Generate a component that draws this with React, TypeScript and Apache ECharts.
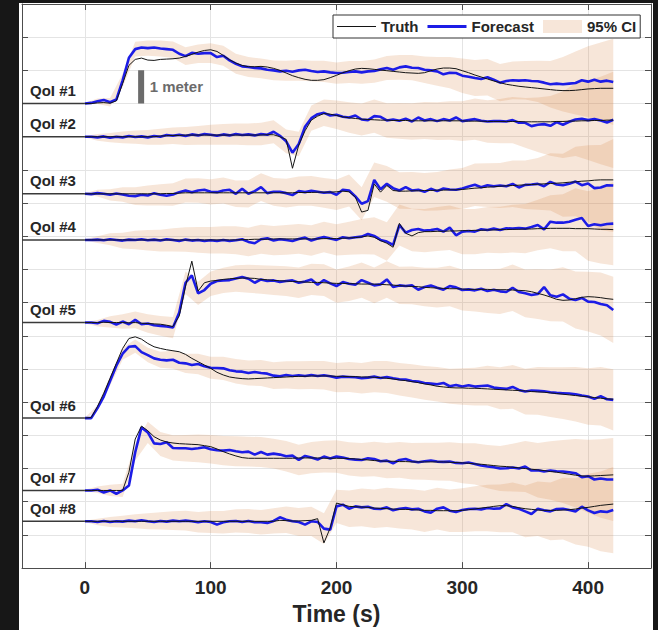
import React, { useEffect, useRef } from 'react';
import * as echarts from 'echarts';

// Sample times (s): forecasts/truths every 5 s, CI half-widths every 10 s
const TIMES = Array.from({ length: 85 }, (_, i) => i * 5);
const BAND_TIMES = Array.from({ length: 43 }, (_, i) => i * 10);

// Vertical offset (m) at which each quantity of interest is drawn
const BASELINES = [14.0, 13.0, 11.28, 9.89, 7.4, 4.52, 2.34, 1.41];
const QOI_LABELS = ['QoI #1', 'QoI #2', 'QoI #3', 'QoI #4', 'QoI #5', 'QoI #6', 'QoI #7', 'QoI #8'];

// Forecast (m, relative to baseline)
const forecast1 = [0, 0.02, 0.07, 0.11, 0.04, 0.12, 0.7, 1.38, 1.64, 1.69,
  1.67, 1.69, 1.66, 1.64, 1.62, 1.5, 1.43, 1.53, 1.5, 1.52,
  1.52, 1.4, 1.44, 1.3, 1.2, 1.12, 1.1, 1.07, 1.06, 1.02,
  1.0, 0.97, 0.99, 0.96, 1.0, 1.02, 0.98, 0.95, 0.97, 0.94,
  0.92, 0.93, 0.95, 0.97, 0.94, 0.97, 0.98, 1.03, 1.07, 1.02,
  1.09, 1.12, 1.08, 1.07, 1.02, 1.0, 0.97, 0.88, 0.93, 0.92,
  0.84, 0.81, 0.77, 0.74, 0.79, 0.72, 0.63, 0.68, 0.7, 0.69,
  0.7, 0.68, 0.67, 0.63, 0.58, 0.6, 0.58, 0.6, 0.62, 0.7,
  0.66, 0.72, 0.66, 0.69, 0.65];
const forecast2 = [0, 0, -0.02, 0.01, -0.03, 0, -0.02, 0.02, -0.01, 0.01,
  -0.02, 0.02, 0, 0.05, 0.03, 0.06, 0.02, 0.07, 0.04, 0.08,
  0.06, 0.03, 0.07, 0.04, 0.08, 0.05, 0.07, 0.04, 0.08, 0.06,
  0.15, 0.03, -0.14, -0.48, -0.22, 0.3, 0.56, 0.68, 0.72, 0.64,
  0.66, 0.6, 0.58, 0.64, 0.52, 0.5, 0.62, 0.6, 0.49, 0.52,
  0.48, 0.54, 0.46, 0.58, 0.49, 0.53, 0.47, 0.53, 0.49, 0.58,
  0.47, 0.5, 0.53, 0.48, 0.46, 0.47, 0.47, 0.46, 0.5, 0.42,
  0.42, 0.32, 0.36, 0.38, 0.33, 0.44, 0.36, 0.45, 0.52, 0.54,
  0.5, 0.53, 0.49, 0.43, 0.51];
const forecast3 = [0, -0.01, 0.02, 0, -0.03, 0.01, -0.02, -0.06, -0.07, -0.03,
  -0.05, 0.02, -0.03, -0.06, -0.02, 0.05, 0.1, 0.05, 0.1, 0.12,
  0.06, 0.05, 0.1, 0.12, 0, 0.15, 0, 0.08, 0.2, 0.02,
  0.06, 0.06, 0.02, -0.04, 0.08, 0.05, 0.09, 0.06, 0.03, 0.05,
  -0.03, 0.12, 0.1, -0.08, -0.3, -0.22, 0.42, 0.14, 0.3, 0.17,
  0.1, 0.2, 0.1, 0.12, 0.06, 0.15, 0.08, 0.16, 0.13, 0.12,
  0.16, 0.22, 0.27, 0.2, 0.26, 0.23, 0.25, 0.23, 0.3, 0.19,
  0.27, 0.28, 0.3, 0.23, 0.36, 0.28, 0.26, 0.3, 0.37, 0.26,
  0.31, 0.17, 0.19, 0.26, 0.25];
const forecast4 = [0, 0, 0.01, -0.01, 0.02, 0, -0.02, 0.01, 0, 0.02,
  -0.01, 0.01, -0.02, 0.02, 0, -0.03, 0.01, -0.02, 0, -0.03,
  -0.01, -0.03, 0, -0.03, -0.01, 0.02, -0.06, -0.1, 0.02, 0.05,
  -0.02, 0.02, 0, -0.03, 0.03, 0.07, -0.02, 0.04, 0.09, 0.04,
  0, 0.08, 0.05, 0.08, 0.1, 0.18, 0.12, 0, -0.05, -0.15,
  0.45, 0.22, 0.3, 0.33, 0.28, 0.3, 0.33, 0.25, 0.37, 0.14,
  0.25, 0.27, 0.25, 0.32, 0.3, 0.34, 0.3, 0.35, 0.34, 0.36,
  0.34, 0.39, 0.45, 0.32, 0.55, 0.52, 0.52, 0.55, 0.61, 0.66,
  0.42, 0.47, 0.44, 0.48, 0.49];
const forecast5 = [0, 0, -0.02, 0.05, 0.02, -0.06, 0.03, -0.05, 0.08, -0.05,
  -0.03, -0.08, -0.1, -0.12, -0.15, 0.3, 1.2, 1.42, 0.88, 0.98,
  1.17, 1.25, 1.27, 1.28, 1.33, 1.37, 1.32, 1.2, 1.3, 1.25,
  1.27, 1.22, 1.25, 1.27, 1.2, 1.24, 1.3, 1.14, 1.28, 1.18,
  1.1, 1.22, 1.17, 1.14, 1.28, 1.2, 1.12, 1.15, 1.3, 1.07,
  1.12, 1.1, 1.12, 0.99, 1.07, 1.12, 1.05, 0.99, 1.1, 1.06,
  0.98, 1.0, 0.97, 1.02, 0.95, 0.99, 0.94, 0.92, 1.05, 0.92,
  0.88, 0.83, 0.86, 1.07, 0.82, 0.78, 0.85, 0.72, 0.68, 0.74,
  0.63, 0.62, 0.56, 0.52, 0.38];
const forecast6 = [0, 0, 0.3, 0.65, 1.12, 1.58, 1.94, 2.15, 2.17, 1.99,
  1.9, 1.8, 1.76, 1.74, 1.76, 1.67, 1.65, 1.6, 1.63, 1.56,
  1.52, 1.51, 1.5, 1.44, 1.41, 1.4, 1.36, 1.39, 1.36, 1.34,
  1.28, 1.26, 1.3, 1.27, 1.29, 1.27, 1.3, 1.27, 1.29, 1.26,
  1.22, 1.25, 1.24, 1.23, 1.2, 1.22, 1.25, 1.21, 1.24, 1.2,
  1.17, 1.16, 1.12, 1.1, 1.06, 1.04, 1.02, 1.06, 0.96, 1.0,
  0.95, 0.99, 0.95, 0.97, 0.98, 0.92, 0.9, 0.88, 0.94, 0.85,
  0.8, 0.83, 0.82, 0.81, 0.78, 0.76, 0.75, 0.74, 0.72, 0.68,
  0.65, 0.58, 0.66, 0.57, 0.55];
const forecast7 = [0, 0, 0.02, -0.06, 0, -0.1, 0, 0.15, 1.15, 1.9,
  1.75, 1.42, 1.4, 1.45, 1.28, 1.27, 1.27, 1.25, 1.27, 1.3,
  1.24, 1.21, 1.2, 1.22, 1.18, 1.15, 1.17, 1.08, 1.16, 1.08,
  1.11, 1.08, 1.03, 1.05, 0.92, 1.04, 0.99, 0.93, 1.02, 0.96,
  1.02, 0.99, 0.95, 0.93, 0.92, 0.97, 0.95, 0.88, 0.9, 0.82,
  0.92, 0.95, 0.88, 0.85, 0.88, 0.9, 0.87, 0.86, 0.87, 0.83,
  0.82, 0.84, 0.8, 0.75, 0.72, 0.7, 0.66, 0.67, 0.69, 0.66,
  0.72, 0.6, 0.61, 0.57, 0.6, 0.58, 0.57, 0.55, 0.52, 0.4,
  0.43, 0.33, 0.36, 0.33, 0.33];
const forecast8 = [0, 0, -0.02, 0.01, -0.02, 0, -0.01, 0.02, 0, 0.03,
  0, -0.02, 0.01, -0.01, 0.02, 0, 0.02, 0, -0.03, 0,
  -0.02, -0.1, -0.03, 0, 0.01, -0.02, 0.01, -0.03, -0.03, -0.05,
  0.01, 0.12, 0.05, 0, -0.02, -0.1, 0, -0.02, -0.22, -0.25,
  0.45, 0.5, 0.38, 0.45, 0.42, 0.44, 0.38, 0.37, 0.42, 0.33,
  0.38, 0.4, 0.36, 0.38, 0.3, 0.26, 0.38, 0.42, 0.32, 0.28,
  0.34, 0.37, 0.38, 0.36, 0.4, 0.38, 0.39, 0.52, 0.42, 0.38,
  0.3, 0.22, 0.38, 0.33, 0.3, 0.37, 0.38, 0.34, 0.3, 0.44,
  0.33, 0.25, 0.3, 0.28, 0.34];

// Truth (m, relative to baseline)
const truth1 = [0, 0, 0.02, 0.03, 0.01, 0.08, 0.6, 1.15, 1.33, 1.37,
  1.31, 1.3, 1.33, 1.34, 1.35, 1.37, 1.42, 1.48, 1.55, 1.6,
  1.62, 1.57, 1.45, 1.32, 1.22, 1.15, 1.11, 1.11, 1.12, 1.1,
  1.06, 1.0, 0.92, 0.84, 0.78, 0.73, 0.7, 0.7, 0.72, 0.78,
  0.85, 0.93, 0.99, 1.04, 1.06, 1.05, 1.03, 1.01, 0.99, 0.97,
  0.95, 0.93, 0.92, 0.91, 0.93, 0.99, 1.04, 1.07, 1.07, 1.05,
  0.99, 0.93, 0.86, 0.8, 0.74, 0.68, 0.63, 0.58, 0.55, 0.52,
  0.5, 0.48, 0.46, 0.44, 0.42, 0.4, 0.39, 0.39, 0.4, 0.42,
  0.44, 0.45, 0.46, 0.46, 0.46];
const truth2 = [0, 0, 0, 0, 0, 0, 0, 0, 0, 0,
  0, 0, 0.02, 0.03, 0.04, 0.04, 0.05, 0.05, 0.05, 0.05,
  0.05, 0.05, 0.05, 0.05, 0.05, 0.05, 0.05, 0.05, 0.05, 0.06,
  0.06, 0, -0.08, -0.95, -0.25, 0.18, 0.5, 0.62, 0.7, 0.68,
  0.64, 0.6, 0.57, 0.55, 0.53, 0.52, 0.51, 0.5, 0.5, 0.49,
  0.49, 0.49, 0.48, 0.48, 0.48, 0.48, 0.48, 0.48, 0.48, 0.48,
  0.48, 0.47, 0.47, 0.47, 0.46, 0.46, 0.46, 0.46, 0.46, 0.46,
  0.45, 0.45, 0.45, 0.45, 0.45, 0.46, 0.46, 0.47, 0.47, 0.48,
  0.48, 0.49, 0.49, 0.5, 0.5];
const truth3 = [0, 0, 0, 0, 0, 0, 0, 0, 0, 0,
  0, 0, 0, 0.01, 0.01, 0.02, 0.03, 0.03, 0.03, 0.03,
  0.03, 0.03, 0.03, 0.03, 0.03, 0.03, 0.03, 0.03, 0.03, 0.03,
  0.03, 0.03, 0.03, 0.03, 0.04, 0.04, 0.04, 0.05, 0.05, 0.05,
  0.06, 0.08, 0.06, -0.1, -0.55, -0.5, 0.3, 0.05, 0.25, 0.1,
  0.08, 0.08, 0.09, 0.09, 0.1, 0.1, 0.11, 0.11, 0.12, 0.12,
  0.13, 0.15, 0.17, 0.18, 0.2, 0.21, 0.23, 0.24, 0.25, 0.26,
  0.27, 0.28, 0.29, 0.3, 0.31, 0.32, 0.33, 0.35, 0.36, 0.38,
  0.39, 0.41, 0.42, 0.42, 0.42];
const truth4 = [0, 0, 0, 0, 0, 0, 0, 0, 0, 0,
  0, 0, 0, 0, 0, 0, 0, 0, 0, 0,
  0, 0, 0, 0, 0, 0.01, 0.01, 0.02, 0.02, 0.02,
  0.03, 0.03, 0.03, 0.03, 0.03, 0.03, 0.03, 0.03, 0.04, 0.04,
  0.04, 0.05, 0.06, 0.07, 0.09, 0.12, 0.08, -0.02, -0.1, -0.22,
  0.5, 0.2, 0.12, 0.22, 0.25, 0.25, 0.26, 0.26, 0.27, 0.27,
  0.28, 0.28, 0.29, 0.29, 0.3, 0.3, 0.31, 0.31, 0.32, 0.32,
  0.33, 0.33, 0.34, 0.34, 0.35, 0.35, 0.35, 0.35, 0.34, 0.34,
  0.34, 0.33, 0.32, 0.32, 0.31];
const truth5 = [0, 0, 0, 0.01, 0, 0, 0, -0.01, 0, -0.02,
  -0.03, -0.04, -0.05, -0.08, -0.12, 0.2, 1.1, 1.85, 0.95, 1.2,
  1.25, 1.27, 1.3, 1.32, 1.33, 1.34, 1.34, 1.33, 1.3, 1.29,
  1.27, 1.26, 1.25, 1.24, 1.23, 1.22, 1.21, 1.21, 1.2, 1.19,
  1.18, 1.18, 1.17, 1.17, 1.16, 1.16, 1.16, 1.15, 1.14, 1.13,
  1.11, 1.1, 1.09, 1.08, 1.06, 1.05, 1.04, 1.03, 1.02, 1.02,
  1.01, 1.0, 1.0, 1.0, 1.0, 0.99, 0.99, 0.99, 0.98, 0.97,
  0.96, 0.93, 0.88, 0.83, 0.77, 0.7, 0.67, 0.68, 0.72, 0.76,
  0.78, 0.77, 0.75, 0.72, 0.7];
const truth6 = [0, 0.02, 0.35, 0.75, 1.2, 1.65, 2.1, 2.4, 2.45, 2.38,
  2.25, 2.15, 2.1, 2.06, 2.03, 2.0, 1.92, 1.8, 1.7, 1.6,
  1.5, 1.38, 1.3, 1.24, 1.21, 1.19, 1.18, 1.19, 1.2, 1.21,
  1.22, 1.23, 1.24, 1.25, 1.26, 1.26, 1.27, 1.27, 1.27, 1.27,
  1.26, 1.26, 1.25, 1.25, 1.24, 1.24, 1.23, 1.22, 1.2, 1.18,
  1.15, 1.13, 1.1, 1.07, 1.03, 1.0, 0.96, 0.94, 0.92, 0.91,
  0.91, 0.9, 0.9, 0.89, 0.88, 0.87, 0.86, 0.85, 0.84, 0.83,
  0.82, 0.8, 0.79, 0.78, 0.76, 0.74, 0.72, 0.7, 0.68, 0.66,
  0.64, 0.62, 0.6, 0.58, 0.57];
const truth7 = [0, 0, 0, 0, 0, 0, 0, 0.55, 1.55, 1.94,
  1.8, 1.62, 1.52, 1.46, 1.43, 1.41, 1.4, 1.39, 1.38, 1.35,
  1.32, 1.25, 1.17, 1.1, 1.04, 0.99, 0.97, 0.97, 0.97, 0.97,
  0.97, 0.97, 0.97, 0.97, 0.98, 0.98, 0.98, 0.98, 0.97, 0.97,
  0.97, 0.97, 0.96, 0.95, 0.93, 0.92, 0.9, 0.89, 0.88, 0.88,
  0.87, 0.87, 0.86, 0.86, 0.86, 0.86, 0.86, 0.86, 0.85, 0.84,
  0.83, 0.82, 0.8, 0.79, 0.77, 0.75, 0.73, 0.72, 0.7, 0.68,
  0.66, 0.64, 0.62, 0.6, 0.57, 0.55, 0.52, 0.49, 0.46, 0.44,
  0.43, 0.44, 0.45, 0.46, 0.47];
const truth8 = [0, 0, 0, 0, 0, 0, 0, 0, 0, 0,
  0, 0, 0, 0, 0, 0, 0, 0, 0, 0,
  0, 0, 0, 0, 0, 0, 0, 0, 0, 0,
  0, 0.03, 0.02, 0.01, 0.01, 0.02, 0.03, 0.08, -0.65, -0.2,
  0.55, 0.5, 0.45, 0.44, 0.43, 0.42, 0.4, 0.39, 0.38, 0.37,
  0.36, 0.36, 0.35, 0.34, 0.33, 0.33, 0.32, 0.32, 0.32, 0.32,
  0.33, 0.35, 0.37, 0.4, 0.42, 0.45, 0.47, 0.47, 0.45, 0.41,
  0.38, 0.36, 0.34, 0.33, 0.33, 0.33, 0.34, 0.35, 0.37, 0.4,
  0.42, 0.45, 0.48, 0.5, 0.52];

// 95% CI half-width (m), every 10 s
const ciHalf1 = [0.02, 0.08, 0.13, 0.2, 0.22, 0.23, 0.24, 0.25, 0.27, 0.28,
  0.3, 0.3, 0.3, 0.3, 0.3, 0.3, 0.3, 0.31, 0.31, 0.32,
  0.32, 0.33, 0.34, 0.35, 0.36, 0.37, 0.38, 0.4, 0.43, 0.47,
  0.52, 0.54, 0.55, 0.56, 0.57, 0.58, 0.62, 0.7, 0.82, 0.95,
  1.07, 1.18, 1.3];
const ciHalf2 = [0.02, 0.1, 0.14, 0.18, 0.2, 0.22, 0.24, 0.25, 0.27, 0.28,
  0.3, 0.31, 0.32, 0.33, 0.34, 0.35, 0.36, 0.37, 0.38, 0.4,
  0.43, 0.46, 0.48, 0.5, 0.52, 0.54, 0.55, 0.56, 0.57, 0.58,
  0.6, 0.62, 0.64, 0.67, 0.7, 0.75, 0.82, 0.9, 1.0, 1.1,
  1.2, 1.32, 1.45];
const ciHalf3 = [0.02, 0.1, 0.17, 0.22, 0.27, 0.3, 0.32, 0.34, 0.36, 0.37,
  0.38, 0.39, 0.4, 0.41, 0.42, 0.42, 0.43, 0.44, 0.45, 0.45,
  0.46, 0.48, 0.5, 0.52, 0.54, 0.55, 0.56, 0.57, 0.58, 0.6,
  0.62, 0.64, 0.66, 0.68, 0.7, 0.73, 0.78, 0.86, 0.95, 1.05,
  1.15, 1.28, 1.4];
const ciHalf4 = [0.02, 0.1, 0.18, 0.24, 0.28, 0.31, 0.33, 0.35, 0.37, 0.39,
  0.4, 0.41, 0.42, 0.43, 0.44, 0.44, 0.45, 0.45, 0.46, 0.46,
  0.47, 0.5, 0.53, 0.56, 0.58, 0.62, 0.64, 0.65, 0.66, 0.67,
  0.68, 0.68, 0.69, 0.7, 0.72, 0.74, 0.76, 0.8, 0.86, 0.95,
  1.05, 1.15, 1.25];
const ciHalf5 = [0.02, 0.1, 0.17, 0.22, 0.25, 0.28, 0.3, 0.32, 0.34, 0.35,
  0.37, 0.38, 0.4, 0.42, 0.43, 0.44, 0.45, 0.46, 0.47, 0.48,
  0.5, 0.52, 0.53, 0.54, 0.55, 0.56, 0.57, 0.58, 0.6, 0.61,
  0.62, 0.64, 0.66, 0.68, 0.7, 0.72, 0.75, 0.78, 0.82, 0.86,
  0.9, 0.95, 1.0];
const ciHalf6 = [0.02, 0.08, 0.14, 0.18, 0.2, 0.22, 0.24, 0.27, 0.29, 0.31,
  0.33, 0.35, 0.37, 0.38, 0.39, 0.4, 0.41, 0.42, 0.42, 0.43,
  0.44, 0.45, 0.46, 0.47, 0.48, 0.49, 0.5, 0.51, 0.52, 0.53,
  0.55, 0.57, 0.6, 0.63, 0.66, 0.69, 0.72, 0.75, 0.78, 0.82,
  0.85, 0.88, 0.92];
const ciHalf7 = [0.02, 0.1, 0.17, 0.2, 0.25, 0.32, 0.36, 0.38, 0.4, 0.42,
  0.43, 0.44, 0.45, 0.45, 0.45, 0.45, 0.46, 0.46, 0.47, 0.48,
  0.49, 0.5, 0.51, 0.52, 0.53, 0.54, 0.55, 0.56, 0.57, 0.58,
  0.6, 0.62, 0.65, 0.68, 0.72, 0.77, 0.82, 0.88, 0.95, 1.03,
  1.1, 1.18, 1.25];
const ciHalf8 = [0.02, 0.1, 0.15, 0.18, 0.21, 0.24, 0.26, 0.28, 0.3, 0.31,
  0.33, 0.34, 0.35, 0.36, 0.37, 0.38, 0.4, 0.42, 0.44, 0.46,
  0.5, 0.55, 0.57, 0.58, 0.59, 0.6, 0.61, 0.62, 0.63, 0.64,
  0.66, 0.68, 0.7, 0.72, 0.75, 0.78, 0.82, 0.87, 0.93, 1.0,
  1.1, 1.2, 1.3];

const FORECASTS = [forecast1, forecast2, forecast3, forecast4, forecast5, forecast6, forecast7, forecast8];
const TRUTHS = [truth1, truth2, truth3, truth4, truth5, truth6, truth7, truth8];
const CI_HALF = [ciHalf1, ciHalf2, ciHalf3, ciHalf4, ciHalf5, ciHalf6, ciHalf7, ciHalf8];

// Pre-event stub drawn from the left edge up to t = 0
const STUB_START = -50;
// "1 meter" scale bar
const SCALE_BAR_T = 44.7;
const SCALE_BAR_RANGE = [14, 15];

const FONT = "'Liberation Sans', Arial, Helvetica, sans-serif";
const TEXT = '#262626';
const AXIS = '#4d4d4d';
const GRID = '#e4e4e4';
const BLUE = '#1c1ce6';
const BLACK = '#141414';
const BAND = 'rgba(216, 128, 64, 0.2)';

function buildOption() {
  const series: any[] = [];

  // confidence bands: one polygon per QoI, lower edge + upper edge
  BASELINES.forEach((base, k) => {
    const f = FORECASTS[k];
    const hw = CI_HALF[k];
    const rows = BAND_TIMES.map((t, i) => [t, base + f[i * 2] - hw[i], base + f[i * 2] + hw[i]]);
    series.push({
      type: 'custom',
      name: '95% CI',
      data: rows,
      encode: { x: 0, y: [1, 2] },
      itemStyle: { color: BAND },
      silent: true,
      renderItem: (params: any, api: any) => {
        if (params.dataIndex !== 0) return null;
        const upper = rows.map((r) => api.coord([r[0], r[2]]));
        const lower = rows.map((r) => api.coord([r[0], r[1]])).reverse();
        return {
          type: 'polygon',
          shape: { points: upper.concat(lower) },
          style: { fill: BAND },
          silent: true,
        };
      },
    });
  });

  BASELINES.forEach((base, k) => {
    series.push({
      type: 'line',
      name: 'Forecast',
      data: TIMES.map((t, i) => [t, base + FORECASTS[k][i]]),
      symbol: 'none',
      itemStyle: { color: BLUE },
      lineStyle: { color: BLUE, width: 2.6 },
      silent: true,
    });
  });

  BASELINES.forEach((base, k) => {
    series.push({
      type: 'line',
      name: 'Truth',
      data: TIMES.map((t, i) => [t, base + TRUTHS[k][i]]),
      symbol: 'none',
      itemStyle: { color: BLACK },
      lineStyle: { color: BLACK, width: 1 },
      silent: true,
    });
  });

  // baseline stubs with the QoI names
  BASELINES.forEach((base, k) => {
    series.push({
      type: 'line',
      name: `stub-${k}`,
      data: [{ value: [STUB_START, base], label: { show: true } }, [0, base]],
      symbol: 'circle',
      symbolSize: 1,
      showSymbol: true,
      itemStyle: { color: 'rgba(0,0,0,0)' },
      lineStyle: { color: '#3a3a3a', width: 1.5 },
      label: {
        show: false,
        formatter: QOI_LABELS[k],
        position: 'top',
        align: 'left',
        offset: [8, 0],
        distance: 5,
        fontFamily: FONT,
        fontWeight: 'bold',
        fontSize: 15,
        color: TEXT,
      },
      silent: true,
    });
  });

  // scale bar
  series.push({
    type: 'line',
    name: 'scale-bar',
    data: [
      [SCALE_BAR_T, SCALE_BAR_RANGE[0]],
      { value: [SCALE_BAR_T, (SCALE_BAR_RANGE[0] + SCALE_BAR_RANGE[1]) / 2], label: { show: true } },
      [SCALE_BAR_T, SCALE_BAR_RANGE[1]],
    ],
    symbol: 'circle',
    symbolSize: 1,
    showSymbol: true,
    itemStyle: { color: 'rgba(0,0,0,0)' },
    lineStyle: { color: '#6b6b6b', width: 6, cap: 'butt' },
    label: {
      show: false,
      formatter: '1 meter',
      position: 'right',
      distance: 8,
      fontFamily: FONT,
      fontWeight: 'bold',
      fontSize: 15,
      color: '#6b6b6b',
    },
    silent: true,
  });

  const boxAxisLine = { show: true, onZero: false, lineStyle: { color: AXIS, width: 1 } };
  const boxTick = { show: true, inside: true, length: 6, lineStyle: { color: AXIS, width: 1 } };

  return {
    animation: false,
    backgroundColor: '#ffffff',
    grid: { left: 3, top: 1, width: 629, height: 570 },
    legend: {
      left: 314,
      top: 12,
      orient: 'horizontal',
      selectedMode: false,
      padding: [4, 4, 4, 4],
      itemWidth: 39,
      itemHeight: 13,
      itemGap: 9,
      borderColor: '#333',
      borderWidth: 1,
      backgroundColor: '#ffffff',
      textStyle: { fontFamily: FONT, fontWeight: 'bold', fontSize: 15, color: TEXT },
      data: [
        { name: 'Truth', icon: 'path://M0,0H40V1.2H0Z' },
        { name: 'Forecast', icon: 'path://M0,0H40V3H0Z' },
        { name: '95% CI', icon: 'rect' },
      ],
    },
    xAxis: [
      {
        type: 'value',
        min: -50,
        max: 450,
        position: 'bottom',
        splitNumber: 5,
        axisLine: boxAxisLine,
        axisTick: boxTick,
        axisLabel: {
          showMinLabel: false,
          showMaxLabel: false,
          margin: 10,
          fontFamily: FONT,
          fontWeight: 'bold',
          fontSize: 19,
          color: TEXT,
        },
        splitLine: { show: true, lineStyle: { color: GRID, width: 1 } },
        name: 'Time (s)',
        nameLocation: 'middle',
        nameGap: 33,
        nameTextStyle: { fontFamily: FONT, fontWeight: 'bold', fontSize: 23, color: TEXT },
      },
      {
        type: 'value',
        min: -50,
        max: 450,
        position: 'top',
        splitNumber: 5,
        axisLine: boxAxisLine,
        axisTick: boxTick,
        axisLabel: { show: false },
        splitLine: { show: false },
      },
    ],
    yAxis: [
      {
        type: 'value',
        min: 0,
        max: 17,
        interval: 1,
        position: 'left',
        axisLine: boxAxisLine,
        axisTick: boxTick,
        axisLabel: { show: false },
        splitLine: { show: true, lineStyle: { color: GRID, width: 1 } },
      },
      {
        type: 'value',
        min: 0,
        max: 17,
        interval: 1,
        position: 'right',
        axisLine: boxAxisLine,
        axisTick: boxTick,
        axisLabel: { show: false },
        splitLine: { show: false },
      },
    ],
    series,
  };
}

export default function App() {
  const ref = useRef<HTMLDivElement>(null);

  useEffect(() => {
    if (!ref.current) return;
    const chart = echarts.init(ref.current, undefined, { renderer: 'svg' });
    chart.setOption(buildOption() as any);
    return () => chart.dispose();
  }, []);

  return (
    <div style={{ position: 'fixed', left: 0, top: 0, width: 658, height: 630, background: '#171717' }}>
      <div
        ref={ref}
        style={{ position: 'absolute', left: 19, top: 3, width: 634, height: 627, background: '#ffffff' }}
      />
    </div>
  );
}
